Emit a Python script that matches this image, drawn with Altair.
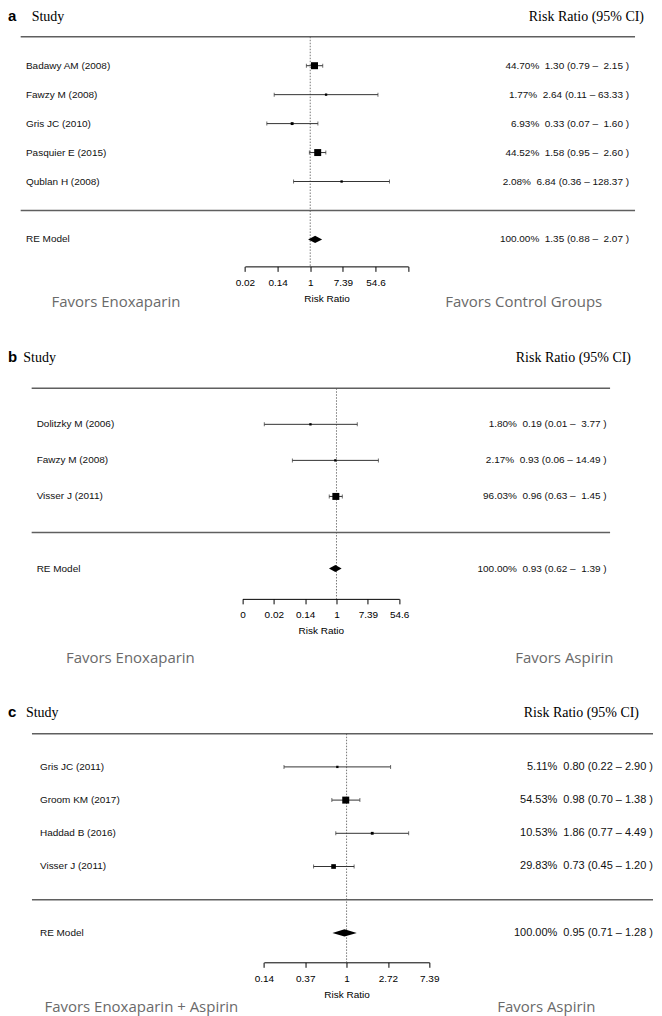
import json
import altair as alt
import numpy as np
import pandas as pd

# ----------------------------- data -----------------------------
a_study = ["Badawy AM (2008)", "Fawzy M (2008)", "Gris JC (2010)", "Pasquier E (2015)", "Qublan H (2008)"]
a_weight = [44.70, 1.77, 6.93, 44.52, 2.08]
a_rr = [1.30, 2.64, 0.33, 1.58, 6.84]
a_lo = [0.79, 0.11, 0.07, 0.95, 0.36]
a_hi = [2.15, 63.33, 1.60, 2.60, 128.37]
a_re = [1.35, 0.88, 2.07]
a_ticks = [-4, -2, 0, 2, 4, 6]
a_tick_labels = ["0.02", "0.14", "1", "7.39", "54.6", ""]
a_favors = ["Favors Enoxaparin", "Favors Control Groups"]

b_study = ["Dolitzky M (2006)", "Fawzy M (2008)", "Visser J (2011)"]
b_weight = [1.80, 2.17, 96.03]
b_rr = [0.19, 0.93, 0.96]
b_lo = [0.01, 0.06, 0.63]
b_hi = [3.77, 14.49, 1.45]
b_re = [0.93, 0.62, 1.39]
b_ticks = [-6, -4, -2, 0, 2, 4]
b_tick_labels = ["0", "0.02", "0.14", "1", "7.39", "54.6"]
b_favors = ["Favors Enoxaparin", "Favors Aspirin"]

c_study = ["Gris JC (2011)", "Groom KM (2017)", "Haddad B (2016)", "Visser J (2011)"]
c_weight = [5.11, 54.53, 10.53, 29.83]
c_rr = [0.80, 0.98, 1.86, 0.73]
c_lo = [0.22, 0.70, 0.77, 0.45]
c_hi = [2.90, 1.38, 4.49, 1.20]
c_re = [0.95, 0.71, 1.28]
c_ticks = [-2, -1, 0, 1, 2]
c_tick_labels = ["0.14", "0.37", "1", "2.72", "7.39"]
c_favors = ["Favors Enoxaparin + Aspirin", "Favors Aspirin"]

# ----------------------------- layout (page pixels) -----------------------------
M = 8          # page margin
W = 646        # panel width
SANS = "Liberation Sans"
SERIF = "Liberation Serif"
FAV_FONT = "Open Sans"
FAV_COLOR = "#6a6a6a"
LINE_COLOR = "#5f5f5f"
CI_COLOR = "#333333"
SQ_SIDE_MAX = 7.0
DIAMOND_HALF = 3.6
NB = "\u00a0"

LAYOUT = {
    "a": dict(top=8, height=257, row_px=29.0, row0=209.0, x_one=310.7, ppu=16.35,
              letter_x=8, study_x=31.7, head_y=10.3, rrci_right=645,
              label_x=26, line_x=(20.7, 636), rr_right=630, pad=5, rfont=10,
              fav_left=51.6, fav_right=446, fav_y=306),
    "b": dict(top=265, height=333, row_px=36.1, row0=531.5, x_one=337.0, ppu=15.7,
              letter_x=8, study_x=23.3, head_y=360.3, rrci_right=632,
              label_x=36.7, line_x=(31.7, 611), rr_right=607.6, pad=5, rfont=10,
              fav_left=66, fav_right=516, fav_y=662),
    "c": dict(top=598, height=364, row_px=33.25, row0=899.3, x_one=347.1, ppu=41.4,
              letter_x=8, study_x=26, head_y=716, rrci_right=640,
              label_x=40, line_x=(32, 654), rr_right=654, pad=0, rfont=11,
              fav_left=44.5, fav_right=498, fav_y=1012),
}


def ci_text(w, est, lo, hi, pad):
    hs = f"{hi:.2f}"
    hs = NB * max(0, pad - len(hs)) + hs
    return f"{w:.2f}%{NB}{NB}{est:.2f} ({lo:.2f} \u2013 {hs} )"


def build_panel(key, letter, study, weight, rr, lo, hi, re_vals, ticks, tick_labels, favors):
    L = LAYOUT[key]
    k = len(study)
    vt, vh = L["top"], L["height"]

    r_top = (L["row0"] - vt) / L["row_px"]
    r_bot = (L["row0"] - vt - vh) / L["row_px"]
    ysc = alt.Scale(domain=[r_bot, r_top], nice=False, zero=False)
    xsc = alt.Scale(domain=[ticks[0], ticks[-1]],
                    range=[L["x_one"] + L["ppu"] * ticks[0] - M,
                           L["x_one"] + L["ppu"] * ticks[-1] - M],
                    nice=False, zero=False)
    ax = alt.Axis(values=ticks,
                  labelExpr=f"{json.dumps(tick_labels)}[indexof({json.dumps(ticks)}, datum.value)]",
                  title="Risk Ratio", grid=False,
                  domainColor="#000", tickColor="#000", labelColor="#000", titleColor="#000",
                  domainWidth=1, tickWidth=1, tickSize=5,
                  labelFont=SANS, labelFontSize=10, labelPadding=6,
                  labelFlush=False, labelOverlap=False,
                  titleFont=SANS, titleFontSize=10, titleFontWeight="normal", titlePadding=6)

    def X(f):
        return alt.X(f, type="quantitative", scale=xsc, axis=ax)

    def Y(f):
        return alt.Y(f, type="quantitative", scale=ysc, axis=None)

    df = pd.DataFrame({"study": study, "weight": weight, "rr": rr, "lo": lo, "hi": hi})
    df["row"] = np.arange(k, 0, -1)
    df["lnrr"] = np.log(df["rr"])
    df["lnlo"] = np.log(df["lo"])
    df["lnhi"] = np.log(df["hi"])
    wmin, wmax = df["weight"].min(), df["weight"].max()
    df["psize"] = 0.5 + (df["weight"] - wmin) / (wmax - wmin)

    txt = pd.DataFrame({
        "label": list(study) + ["RE Model"],
        "row": list(df["row"]) + [-1],
        "citxt": [ci_text(w, e, l, h, L["pad"]) for w, e, l, h in zip(weight, rr, lo, hi)]
                 + [ci_text(sum(weight), re_vals[0], re_vals[1], re_vals[2], L["pad"])],
    })

    hh = DIAMOND_HALF / L["row_px"]
    dia_df = pd.DataFrame({"x": np.log([re_vals[1], re_vals[0], re_vals[2]]),
                           "hh": [0.0, hh, 0.0]})
    dia_df["y1"] = -1 + dia_df["hh"]
    dia_df["y2"] = -1 - dia_df["hh"]

    hlines = alt.Chart(pd.DataFrame({"row": [k + 1, 0]})).mark_rule(
        color=LINE_COLOR, strokeWidth=1.5).encode(
        y=Y("row"), x=alt.value(L["line_x"][0] - M), x2=alt.value(L["line_x"][1] - M))

    ref = alt.Chart(pd.DataFrame({"v": [0.0], "row": [k + 1]})).mark_rule(
        color="#555555", strokeDash=[1.5, 1.5], strokeWidth=0.8).encode(
        x=X("v"), y=Y("row"), y2=alt.value(vh))

    ci = alt.Chart(df).mark_rule(color=CI_COLOR, strokeWidth=1).encode(
        x=X("lnlo"), x2=alt.X2("lnhi"), y=Y("row"))

    caps = alt.Chart(df).transform_fold(["lnlo", "lnhi"], as_=["end", "xv"]).mark_tick(
        orient="vertical", size=4, thickness=1, color=CI_COLOR).encode(
        x=X("xv:Q"), y=Y("row"))

    sq = alt.Chart(df).mark_square(filled=True, color="#000000", opacity=1).encode(
        x=X("lnrr"), y=Y("row"),
        size=alt.Size("psize:Q", scale=alt.Scale(type="pow", exponent=2, domain=[0, 1.5],
                                                  range=[0, SQ_SIDE_MAX ** 2]), legend=None))

    dia = alt.Chart(dia_df).mark_area(color="#000000", opacity=1, orient="vertical").encode(
        x=X("x"), y=Y("y1"), y2=alt.Y2("y2"))

    lab = alt.Chart(txt).mark_text(align="left", baseline="middle", font=SANS,
                                   fontSize=10, color="#111111").encode(
        x=alt.value(L["label_x"] - M), y=Y("row"), text="label:N")
    cit = alt.Chart(txt).mark_text(align="right", baseline="middle", font=SANS,
                                   fontSize=L["rfont"], color="#111111").encode(
        x=alt.value(L["rr_right"] - M), y=Y("row"), text="citxt:N")

    hy = max(L["head_y"] - vt, 11.5)
    head_letter = alt.Chart(pd.DataFrame({"t": [letter]})).mark_text(
        align="left", baseline="alphabetic", font=SANS, fontWeight="bold", fontSize=15,
        color="#000000").encode(x=alt.value(L["letter_x"] - M), y=alt.value(hy), text="t:N")
    head_study = alt.Chart(pd.DataFrame({"t": ["Study"]})).mark_text(
        align="left", baseline="alphabetic", font=SERIF, fontSize=14,
        color="#000000").encode(x=alt.value(L["study_x"] - M), y=alt.value(hy), text="t:N")
    head_rr = alt.Chart(pd.DataFrame({"t": ["Risk Ratio (95% CI)"]})).mark_text(
        align="right", baseline="alphabetic", font=SERIF, fontSize=14,
        color="#000000").encode(x=alt.value(L["rrci_right"] - M), y=alt.value(hy), text="t:N")

    fav_l = alt.Chart(pd.DataFrame({"t": [favors[0]]})).mark_text(
        align="left", baseline="alphabetic", font=FAV_FONT, fontSize=15,
        color=FAV_COLOR).encode(x=alt.value(L["fav_left"] - M),
                                y=alt.value(L["fav_y"] - vt), text="t:N")
    fav_r = alt.Chart(pd.DataFrame({"t": [favors[1]]})).mark_text(
        align="left", baseline="alphabetic", font=FAV_FONT, fontSize=15,
        color=FAV_COLOR).encode(x=alt.value(L["fav_right"] - M),
                                y=alt.value(L["fav_y"] - vt), text="t:N")

    return alt.layer(hlines, ref, ci, caps, sq, dia, lab, cit,
                     head_letter, head_study, head_rr, fav_l, fav_r).properties(width=W, height=vh)


pa = build_panel("a", "a", a_study, a_weight, a_rr, a_lo, a_hi, a_re, a_ticks, a_tick_labels, a_favors)
pb = build_panel("b", "b", b_study, b_weight, b_rr, b_lo, b_hi, b_re, b_ticks, b_tick_labels, b_favors)
pc = build_panel("c", "c", c_study, c_weight, c_rr, c_lo, c_hi, c_re, c_ticks, c_tick_labels, c_favors)

chart = alt.vconcat(pa, pb, pc, spacing=0, bounds="flush").properties(
    padding=0, background="white").configure_view(stroke=None)

chart.save("out.html", embed_options={"renderer": "svg", "actions": False})
